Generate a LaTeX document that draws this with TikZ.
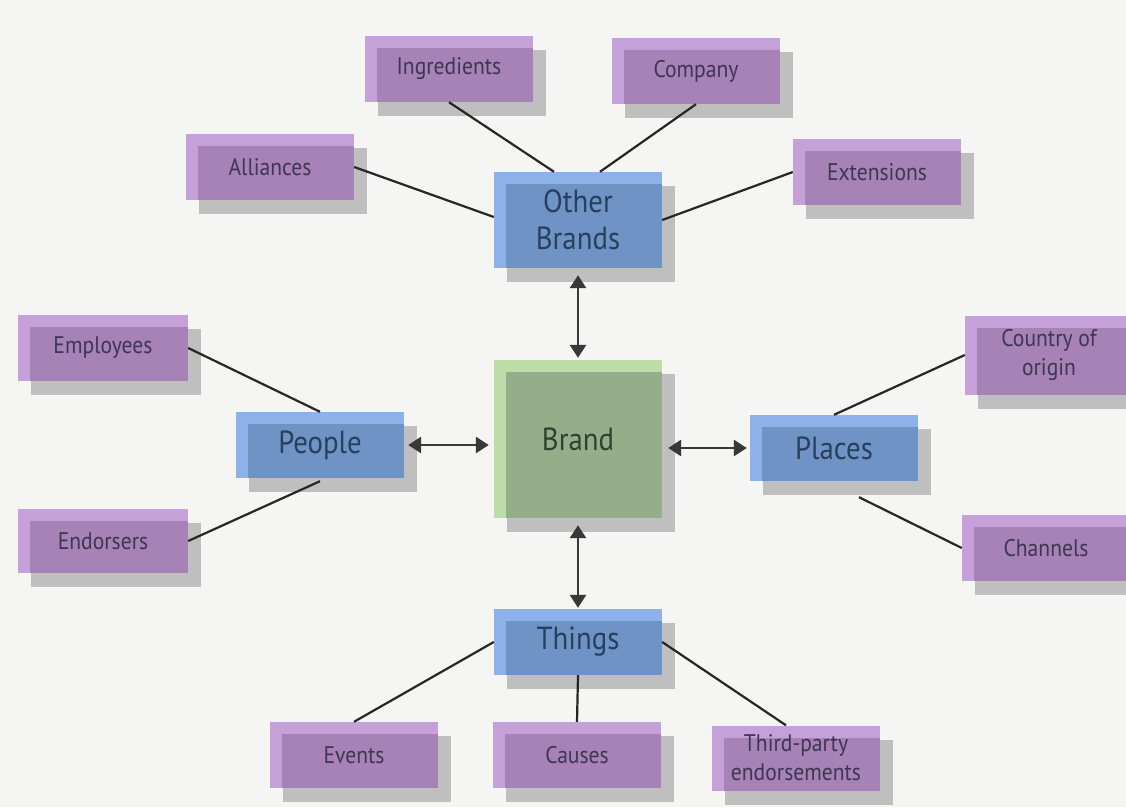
\documentclass[tikz,border=0pt]{standalone}
\usepackage{fontspec}
\usetikzlibrary{arrows.meta,shadows}

\newfontfamily\diagfont[FakeStretch=0.9]{PT Sans}
\newcommand{\leaffont}{\diagfont\fontsize{24}{29}\selectfont}
\newcommand{\hubfont}{\diagfont\fontsize{32}{37}\selectfont}

\definecolor{paper}{HTML}{F5F5F3}
\definecolor{shadowgray}{HTML}{BFBFBF}
\definecolor{purpleRim}{HTML}{C6A0D8}
\definecolor{purpleCore}{HTML}{A682B6}
\definecolor{purpleText}{HTML}{3E3652}
\definecolor{blueRim}{HTML}{8DB2EA}
\definecolor{blueCore}{HTML}{7093C6}
\definecolor{blueText}{HTML}{27405E}
\definecolor{greenRim}{HTML}{BCDCA8}
\definecolor{greenCore}{HTML}{94AE8A}
\definecolor{greenText}{HTML}{2F4331}
\definecolor{lineInk}{HTML}{262626}
\definecolor{arrowInk}{HTML}{383838}

\tikzset{
  card/.style 2 args={rectangle, fill=#1, inner sep=0pt, align=center,
    drop shadow={shadow xshift=13pt, shadow yshift=-14pt, fill=shadowgray, opacity=1},
    path picture={\fill[#2] ([xshift=12pt,yshift=-12pt]path picture bounding box.north west)
      rectangle (path picture bounding box.south east);}},
  leaf/.style={card={purpleRim}{purpleCore}, minimum width=168pt, minimum height=66pt,
    font=\leaffont, text=purpleText},
  hub/.style={card={blueRim}{blueCore}, minimum width=168pt, minimum height=66pt,
    font=\hubfont, text=blueText},
  core/.style={card={greenRim}{greenCore}, minimum width=168pt, minimum height=158pt,
    font=\hubfont, text=greenText},
  link/.style={draw=lineInk, line width=2.2pt},
  biarrow/.style={draw=arrowInk, line width=2.8pt,
    {Triangle[width=16pt,length=13pt]}-{Triangle[width=16pt,length=13pt]}},
}

\begin{document}
\begin{tikzpicture}[x=1pt,y=-1pt]
  \fill[paper] (0,0) rectangle (1126,807);
  \useasboundingbox (0,0) rectangle (1126,807);

  % central brand and its four associations
  \node[core] (brand) at (578,439) {Brand};
  \node[hub, minimum height=96pt] (ob) at (578,220) {Other\\Brands};
  \node[hub] (ppl) at (320,445) {People};
  \node[hub] (plc) at (834,448) {Places};
  \node[hub] (thg) at (578,642) {Things};

  % secondary sources
  \node[leaf] (ing) at (449,69) {Ingredients};
  \node[leaf] (comp) at (696,71) {Company};
  \node[leaf] (alli) at (270,167) {Alliances};
  \node[leaf] (ext) at (877,172) {Extensions};
  \node[leaf, minimum width=170pt] (emp) at (103,348) {Employees};
  \node[leaf, minimum width=170pt, minimum height=64pt] (endo) at (103,541) {Endorsers};
  \node[leaf, minimum height=79pt] (coo) at (1049,355) {Country of\\origin};
  \node[leaf] (chan) at (1046,548) {Channels};
  \node[leaf] (ev) at (354,755) {Events};
  \node[leaf] (cau) at (577,755) {Causes};
  \node[leaf, minimum height=65pt] (tpe) at (796,758) {Third-party\\endorsements};

  % plain links to the secondary sources
  \draw[link] (ing.south) -- ([xshift=-24pt]ob.north);
  \draw[link] (comp.south) -- ([xshift=22pt]ob.north);
  \draw[link] (alli.east) -- ([yshift=3pt]ob.west);
  \draw[link] (ext.west) -- (ob.east);
  \draw[link] (emp.east) -- (ppl.north);
  \draw[link] (endo.east) -- ([yshift=-3pt]ppl.south);
  \draw[link] (coo.west) -- (plc.north);
  \draw[link] (chan.west) -- ([xshift=25pt,yshift=-16pt]plc.south);
  \draw[link] (ev.north) -- (thg.west);
  \draw[link] (cau.north) -- (thg.south);
  \draw[link] ([xshift=-10pt]tpe.north) -- (thg.east);

  % two-way links to the brand
  \draw[biarrow] ([yshift=-7pt]ob.south) -- ([yshift=2pt]brand.north);
  \draw[biarrow] ([xshift=4pt]ppl.east) -- ([xshift=-5pt]ppl.east -| brand.west);
  \draw[biarrow] ([xshift=6pt]plc.west -| brand.east) -- ([xshift=-3pt]plc.west);
  \draw[biarrow] ([yshift=-7pt]brand.south) -- ([yshift=1pt]thg.north);
\end{tikzpicture}
\end{document}
